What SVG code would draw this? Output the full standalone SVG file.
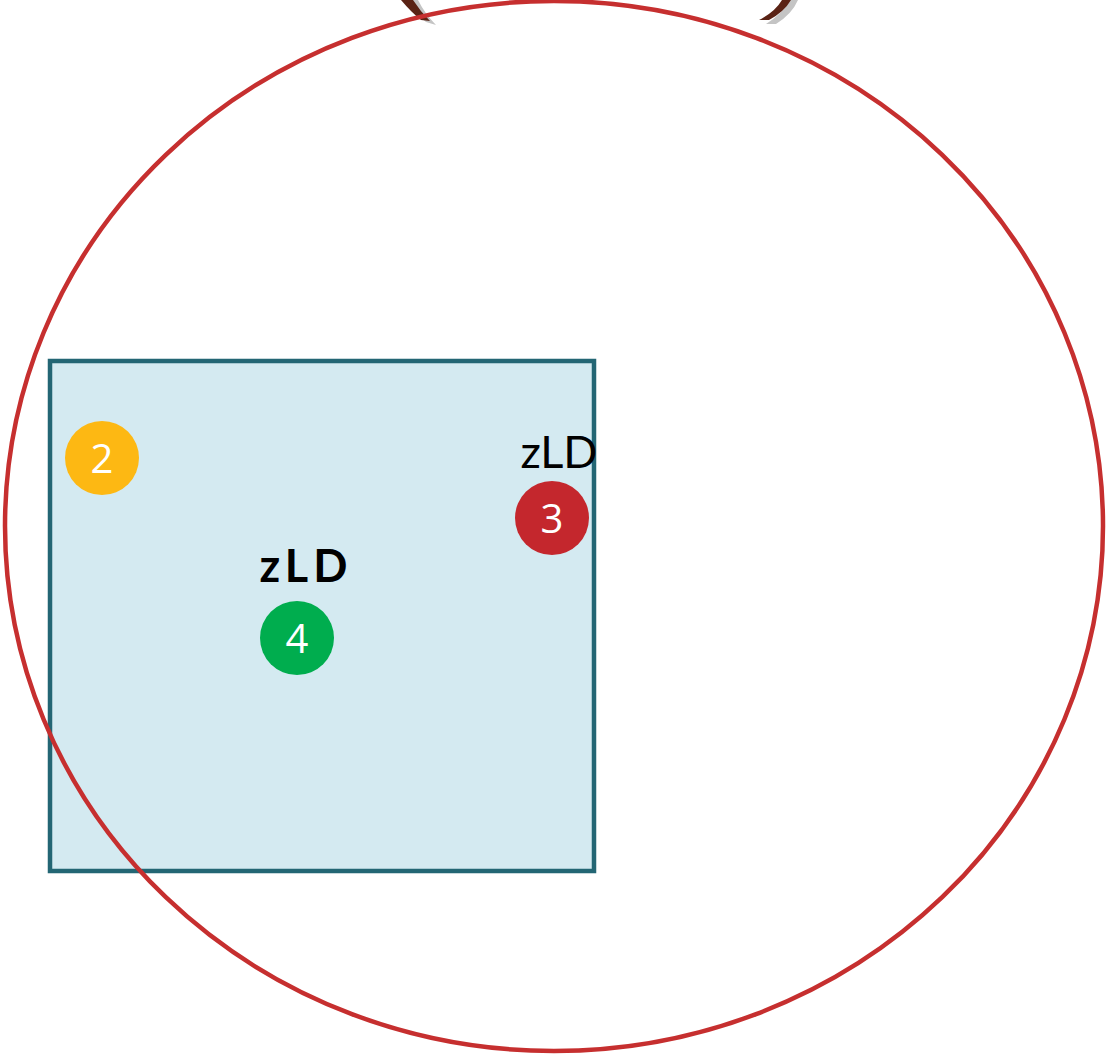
<svg xmlns="http://www.w3.org/2000/svg" width="1108" height="1057" viewBox="0 0 1108 1057">
<style>
.num{font-family:"Open Sans","Noto Sans",sans-serif;font-size:40px;fill:#fff;text-anchor:middle;font-weight:400}
.lbl{font-family:"Lato","Liberation Sans",sans-serif;font-size:45px;fill:#000;text-anchor:middle}
.brown{fill:#5a2315}
.shadow{fill:#c4c4c4}
</style>
<rect width="1108" height="1057" fill="#fff"/>
<g id="arcs">
<path class="shadow" d="M 406 0 Q 416 14 426 22 L 436 25 Q 425 14 418 0 Z"/>
<path class="brown" d="M 401 0 Q 411 12 421 20 L 430 21 Q 420 11 413 0 Z"/>
<path class="shadow" d="M 790 0 Q 782 14 766 24 L 776 24 Q 792 14 798 0 Z"/>
<path class="brown" d="M 782 0 Q 775 12 759 20 L 769 20 Q 784 12 791 0 Z"/>
</g>
<g id="box">
<rect x="50" y="361" width="544" height="510" fill="#d4eaf1" stroke="#236674" stroke-width="4.5"/>
</g>
<g id="ring">
<ellipse cx="554" cy="526" rx="549" ry="525" fill="none" stroke="#c62f2f" stroke-width="4.5"/>
</g>
<g id="node2">
<circle cx="102" cy="458" r="37" fill="#fdb813"/>
<text class="num" x="102" y="473">2</text>
</g>
<g id="node3">
<text class="lbl" x="559" y="468">zLD</text>
<circle cx="552" cy="518" r="37" fill="#c4272d"/>
<text class="num" x="552" y="533">3</text>
</g>
<g id="node4">
<text class="lbl" x="306" y="582" font-weight="bold" letter-spacing="5">zLD</text>
<circle cx="297" cy="638" r="37" fill="#00ad4e"/>
<text class="num" x="297" y="653">4</text>
</g>
</svg>
